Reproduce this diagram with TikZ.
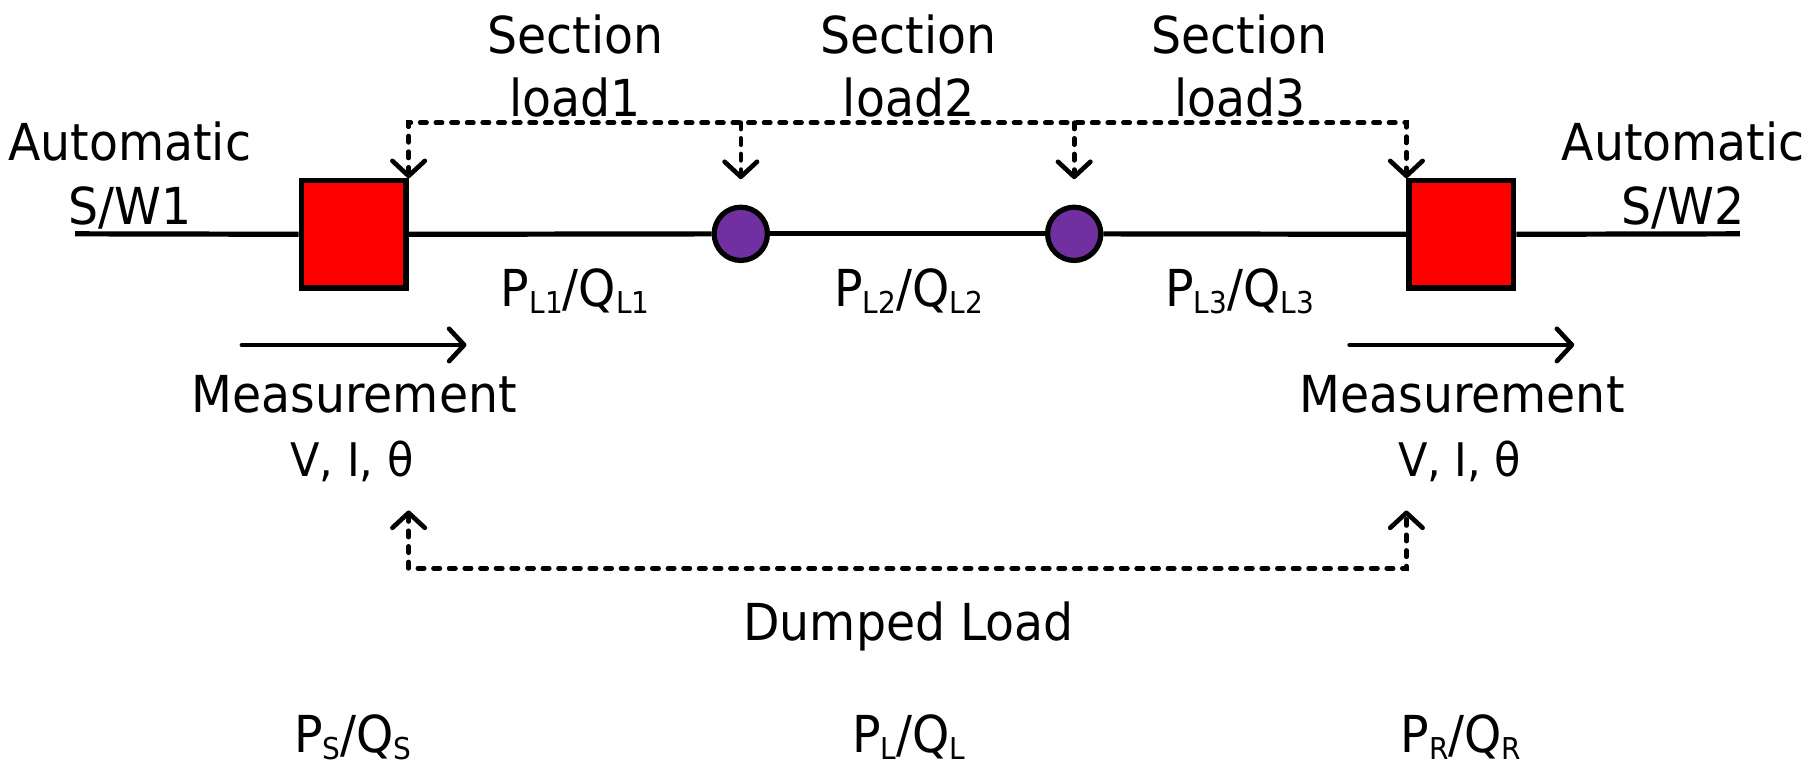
\documentclass[tikz,border=0pt]{standalone}
\usepackage{fontspec}
\setmainfont{DejaVu Sans}[FakeStretch=0.93]
\usetikzlibrary{arrows.meta}
\definecolor{loadpurple}{HTML}{7030A0}
\newcommand\sbx[1]{\raisebox{-6pt}{\fontsize{26}{26}\selectfont #1}}
\tikzset{barb/.tip={Straight Barb[length=13pt,width=28pt,round]}}
\begin{document}
\begin{tikzpicture}[x=1pt,y=-1pt,
  txt/.style={font=\fontsize{44}{52}\selectfont, inner sep=0pt, anchor=base},
  smalltxt/.style={font=\fontsize{40}{48}\selectfont, inner sep=0pt, anchor=base},
  wire/.style={line width=4.5pt},
  sw/.style={draw, line width=4.5pt, fill=red, minimum width=90.5pt, minimum height=92.5pt, inner sep=0pt},
  ld/.style={circle, draw, line width=4.5pt, fill=loadpurple, minimum size=46pt, inner sep=0pt},
  ctl/.style={line width=4pt, dash pattern=on 5.5pt off 8pt, line cap=round},
  meas/.style={line width=4pt, line cap=round}
]
\useasboundingbox (0,0) rectangle (1568,667);

% main line elements
\coordinate (wl) at (65,202);
\coordinate (wr) at (1503,202);
\node[sw] (sqL) at (305.5,202.5) {};
\node[sw] (sqR) at (1262.5,202.5) {};
\node[ld] (c1) at (640,202) {};
\node[ld] (c2) at (928,202) {};
\draw[wire] (wl) -- (sqL);
\draw[wire] (sqL) -- (c1);
\draw[wire] (c1) -- (c2);
\draw[wire] (c2) -- (sqR);
\draw[wire] (sqR) -- (wr);

% top control dashed line
\coordinate (tL) at (353,106);
\coordinate (t1) at (640,106);
\coordinate (t2) at (928,106);
\coordinate (tR) at (1215,106);
\draw[ctl, barb-barb] (sqL.north east) -- (tL) -- (tR) -- (sqR.north west);
\draw[ctl, -barb] (t1) -- ([yshift=22pt]c1.north);
\draw[ctl, -barb] (t2) -- ([yshift=22pt]c2.north);

% section labels
\node[txt] (s1a) at (497,46) {Section};
\node[txt] (s1b) at (497,101) {load1};
\node[txt] (s2a) at (785,46) {Section};
\node[txt] (s2b) at (785,101) {load2};
\node[txt] (s3a) at (1071,46) {Section};
\node[txt] (s3b) at (1071,101) {load3};

% switch labels
\node[txt] (a1a) at (112,139) {Automatic};
\node[txt] (a1b) at (112,194) {S/W1};
\node[txt] (a2a) at (1454,139) {Automatic};
\node[txt] (a2b) at (1454,194) {S/W2};

% section powers
\node[txt] (pl1) at (497,265) {P\sbx{L1}/Q\sbx{L1}};
\node[txt] (pl2) at (785,265) {P\sbx{L2}/Q\sbx{L2}};
\node[txt] (pl3) at (1071,265) {P\sbx{L3}/Q\sbx{L3}};

% measurement arrows
\coordinate (mL1) at (209,298);
\coordinate (mL2) at (403,298);
\coordinate (mR1) at (1166,298);
\coordinate (mR2) at (1360,298);
\draw[meas, -barb] (mL1) -- (mL2);
\draw[meas, -barb] (mR1) -- (mR2);

\node[txt] (meL) at (306,356) {Measurement};
\node[smalltxt] (viL) at (304,412) {V, I, θ};
\node[txt] (meR) at (1263,356) {Measurement};
\node[smalltxt] (viR) at (1261,412) {V, I, θ};

% dumped load dashed line
\coordinate (dL) at (353,441);
\coordinate (dR) at (1215,441);
\coordinate (bL) at (353,491);
\coordinate (bR) at (1215,491);
\draw[ctl, barb-barb] (dL) -- (bL) -- (bR) -- (dR);

\node[txt] (dump) at (785,553) {Dumped Load};

% bottom powers
\node[txt] (ps) at (305,650) {P\sbx{S}/Q\sbx{S}};
\node[txt] (plq) at (785,650) {P\sbx{L}/Q\sbx{L}};
\node[txt] (pr) at (1262,650) {P\sbx{R}/Q\sbx{R}};
\end{tikzpicture}
\end{document}
